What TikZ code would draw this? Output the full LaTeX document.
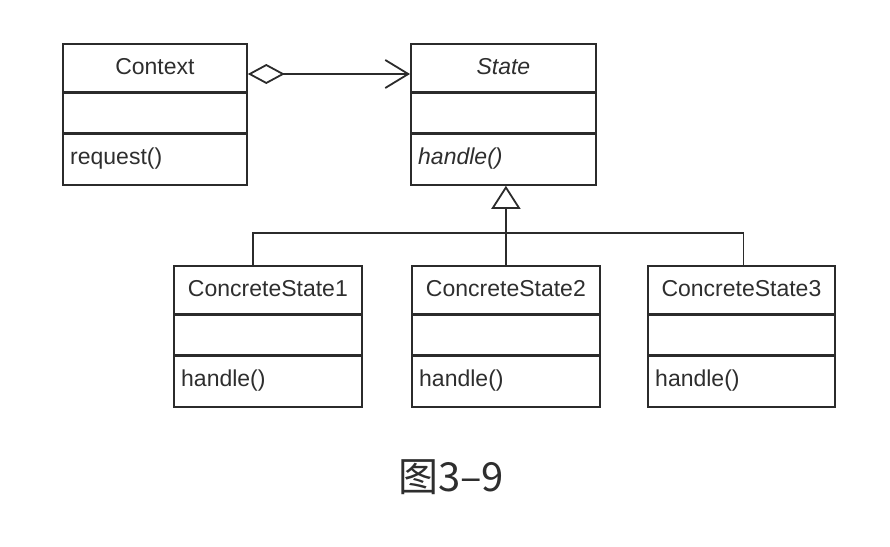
\documentclass[tikz,border=0pt]{standalone}
\usepackage{fontspec}
\setmainfont{Liberation Sans}
\newfontfamily\cjk{Noto Sans CJK SC}
\usetikzlibrary{arrows.meta,calc}
\definecolor{linec}{HTML}{2B2B2B}
\definecolor{textc}{HTML}{2E2E2E}
\begin{document}
\begin{tikzpicture}[x=1pt,y=-1pt,
 classbox/.style={draw=linec, line width=1.8pt, minimum width=#1, minimum height=141pt, anchor=north west, inner sep=0pt},
 sepline/.style={draw=linec, line width=3pt},
 titletext/.style={font=\fontsize{23}{23}\selectfont, text=textc, anchor=base, inner sep=0pt},
 methtext/.style={font=\fontsize{23}{23}\selectfont, text=textc, anchor=base west, inner sep=0pt},
 conn/.style={draw=linec, line width=1.8pt}
]
\useasboundingbox (0,0) rectangle (890,546);

\foreach \n/\x/\y/\w/\t/\m in {
  ctx/62/43/184pt/{Context}/{request()},
  state/410/43/185pt/{\itshape State}/{\itshape handle()},
  csa/173/265/188pt/{ConcreteState1}/{handle()},
  csb/411/265/188pt/{ConcreteState2}/{handle()},
  csc/647/265/187pt/{ConcreteState3}/{handle()}}{
  \node[classbox=\w] (\n) at (\x,\y) {};
  \draw[sepline] ($(\n.north west)+(0,49)$) -- ($(\n.north east)+(0,49)$);
  \draw[sepline] ($(\n.north west)+(0,90)$) -- ($(\n.north east)+(0,90)$);
  \node[titletext] (\n-t) at ($(\n.north)+(0,31)$) {\t};
  \node[methtext] (\n-m) at ($(\n.north west)+(8,121)$) {\m};
}

% aggregation
\coordinate (aggS) at ($(ctx.north east)+(0,31)$);
\coordinate (aggE) at ($(state.north west)+(0,31)$);
\draw[conn, {Diamond[open,length=37pt,width=20pt]}-{Straight Barb[length=23pt,width=28pt]}] (aggS) -- (aggE);

% generalization
\coordinate (apex) at (csb.north |- state.south);
\draw[conn, -{Triangle[open,length=23pt,width=29pt]}] (csb.north) -- (apex);
\coordinate (ba) at ($(csa.north)+(-15,0)$);
\coordinate (bc) at ($(csc.north)+(2,0)$);
\coordinate (bus) at (csb.north |- 0,233);
\draw[conn] (ba) |- (bus) -| (bc);

% caption
\node[font=\cjk\fontsize{40}{40}\selectfont, text=textc, anchor=base, inner sep=0pt] (cap) at (451,491) {图3–9};
\end{tikzpicture}
\end{document}
